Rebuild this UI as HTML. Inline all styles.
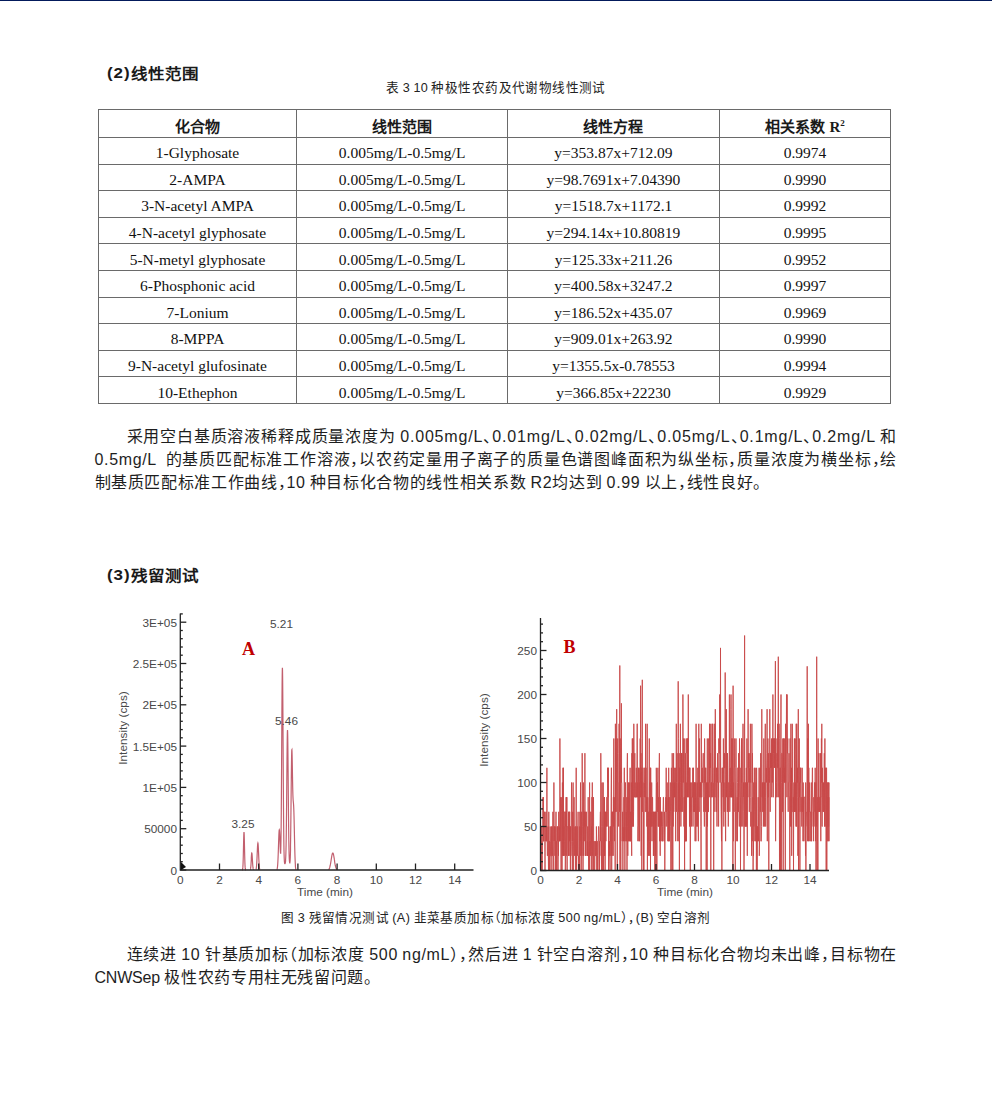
<!DOCTYPE html>
<html lang="zh-CN"><head><meta charset="utf-8">
<style>
*{margin:0;padding:0;box-sizing:border-box}
html,body{width:992px;height:1108px;background:#fff;overflow:hidden}
body{position:relative;font-family:"Liberation Sans",sans-serif;color:#1e1e1e}
.topbar{position:absolute;left:0;top:0;width:992px;height:1px;background:#031a5b}
.h{position:absolute;transform:scaleY(0.91);transform-origin:0 1.4px;left:107px;font-size:16.5px;letter-spacing:-0.1px;font-weight:bold;line-height:20px;white-space:nowrap;color:#1a1a1a;font-feature-settings:'halt';text-autospace:no-autospace}
.cap{position:absolute;left:0;width:992px;text-align:center;font-size:12.6px;letter-spacing:0.42px;line-height:16px;white-space:nowrap;color:#222;font-feature-settings:'halt';text-autospace:no-autospace;word-spacing:-0.7px}
.p{position:absolute;left:94.5px;width:802.5px;font-size:16px;letter-spacing:0.66px;line-height:23px;white-space:nowrap;color:#1e1e1e;font-feature-settings:'halt';text-autospace:no-autospace;word-spacing:-0.87px}
.j{text-align:justify;text-align-last:justify}
table{position:absolute;left:98px;top:108.5px;border-collapse:collapse;font-family:"Liberation Serif",serif;font-size:15.5px;color:#111}
td,th{border:1.2px solid #6a6a6a;text-align:center;padding:0;white-space:nowrap;vertical-align:middle}
th{font-family:"Liberation Sans",sans-serif;font-weight:bold;font-size:15px;height:28.5px;padding-top:4px;color:#1a1a1a}
td{height:26.6px;padding-top:5px}
th b{font-family:"Liberation Serif",serif}
svg{position:absolute;left:0;top:0}
.hn{font-size:17px;letter-spacing:0.9px;margin-right:0.6px;position:relative;top:-1.5px}
</style></head><body>
<div class="topbar"></div>
<div class="h" style="top:63.7px"><span class="hn">(2)</span>线性范围</div>
<div class="cap" style="top:80px">表 3 10 种极性农药及代谢物线性测试</div>
<table>
<colgroup><col style="width:198px"><col style="width:211.2px"><col style="width:211.6px"><col style="width:171.5px"></colgroup>
<tr><th>化合物</th><th>线性范围</th><th>线性方程</th><th>相关系数 <b>R<sup style="font-size:9px">2</sup></b></th></tr>
<tr><td>1-Glyphosate</td><td>0.005mg/L-0.5mg/L</td><td>y=353.87x+712.09</td><td>0.9974</td></tr>
<tr><td>2-AMPA</td><td>0.005mg/L-0.5mg/L</td><td>y=98.7691x+7.04390</td><td>0.9990</td></tr>
<tr><td>3-N-acetyl AMPA</td><td>0.005mg/L-0.5mg/L</td><td>y=1518.7x+1172.1</td><td>0.9992</td></tr>
<tr><td>4-N-acetyl glyphosate</td><td>0.005mg/L-0.5mg/L</td><td>y=294.14x+10.80819</td><td>0.9995</td></tr>
<tr><td>5-N-metyl glyphosate</td><td>0.005mg/L-0.5mg/L</td><td>y=125.33x+211.26</td><td>0.9952</td></tr>
<tr><td>6-Phosphonic acid</td><td>0.005mg/L-0.5mg/L</td><td>y=400.58x+3247.2</td><td>0.9997</td></tr>
<tr><td>7-Lonium</td><td>0.005mg/L-0.5mg/L</td><td>y=186.52x+435.07</td><td>0.9969</td></tr>
<tr><td>8-MPPA</td><td>0.005mg/L-0.5mg/L</td><td>y=909.01x+263.92</td><td>0.9990</td></tr>
<tr><td>9-N-acetyl glufosinate</td><td>0.005mg/L-0.5mg/L</td><td>y=1355.5x-0.78553</td><td>0.9994</td></tr>
<tr><td>10-Ethephon</td><td>0.005mg/L-0.5mg/L</td><td>y=366.85x+22230</td><td>0.9929</td></tr>
</table>

<div class="p j" style="top:424.7px;text-indent:32px">采用空白基质溶液稀释成质量浓度为 <span style="letter-spacing:0.82px">0.005mg/L、0.01mg/L、0.02mg/L、0.05mg/L、0.1mg/L、0.2mg/L</span> 和</div>
<div class="p j" style="top:447.7px">0.5mg/L&nbsp; 的基质匹配标准工作溶液，以农药定量用子离子的质量色谱图峰面积为纵坐标，质量浓度为横坐标，绘</div>
<div class="p" style="top:470.7px">制基质匹配标准工作曲线，10 种目标化合物的线性相关系数 R2均达到 0.99 以上，线性良好。</div>

<div class="h" style="top:566.2px"><span class="hn">(3)</span>残留测试</div>

<svg width="992" height="1108" viewBox="0 0 992 1108">
<path d="M242.4 869.5 L242.5 869.6 L242.6 869.2 L242.7 868.7 L242.8 867.9 L242.9 866.6 L243.0 864.9 L243.1 862.5 L243.2 859.4 L243.3 855.7 L243.4 851.5 L243.5 847.0 L243.6 842.4 L243.7 838.3 L243.8 834.9 L243.9 832.8 L244.0 832.0 L244.1 832.8 L244.2 834.9 L244.3 838.3 L244.4 842.4 L244.5 847.0 L244.6 851.5 L244.7 855.7 L244.8 859.4 L244.9 862.5 L245.0 864.9 L245.1 866.6 L245.2 867.9 L245.3 868.7 L245.4 869.2 L245.5 869.6 L245.6 869.5 M250.2 869.5 L250.3 869.5 L250.4 869.3 L250.5 868.9 L250.6 868.4 L250.7 867.7 L250.8 866.8 L250.9 865.8 L251.0 864.5 L251.1 863.0 L251.2 861.4 L251.3 859.7 L251.3 858.0 L251.4 856.4 L251.5 855.0 L251.6 853.9 L251.7 853.2 L251.8 853.0 L251.9 853.2 L252.0 853.9 L252.1 855.0 L252.2 856.4 L252.3 858.0 L252.4 859.7 L252.5 861.4 L252.6 863.0 L252.7 864.5 L252.8 865.8 L252.9 866.8 L253.0 867.7 L253.1 868.4 L253.2 868.9 L253.3 869.3 L253.4 869.5 L253.5 869.5 M255.9 869.5 L256.0 869.5 L256.1 869.3 L256.2 869.0 L256.2 868.6 L256.3 868.0 L256.4 867.3 L256.5 866.3 L256.6 865.2 L256.7 863.8 L256.8 862.1 L256.9 860.3 L257.0 858.2 L257.1 855.9 L257.2 853.6 L257.3 851.3 L257.4 849.1 L257.5 847.1 L257.6 845.4 L257.7 844.1 L257.8 843.3 L257.9 843.0 L258.0 843.3 L258.1 844.1 L258.2 845.4 L258.3 847.1 L258.4 849.1 L258.5 851.3 L258.6 853.6 L258.7 855.9 L258.8 858.2 L258.9 860.3 L259.0 862.1 L259.1 863.8 L259.2 865.2 L259.3 866.3 L259.4 867.3 L259.5 868.0 L259.6 868.6 L259.7 869.0 L259.8 869.3 L259.9 869.5 L260.0 869.5 M276.8 869.5 L276.9 869.5 L277.0 869.3 L277.1 869.1 L277.2 868.7 L277.3 868.2 L277.4 867.6 L277.5 866.8 L277.6 865.8 L277.7 864.5 L277.8 863.0 L277.9 861.3 L278.0 859.3 L278.1 856.9 L278.2 854.4 L278.3 851.6 L278.4 848.7 L278.5 845.6 L278.6 842.6 L278.7 839.7 L278.8 837.0 L278.9 834.5 L279.0 832.5 L279.1 831.0 L279.2 830.1 L279.3 829.8 L279.4 830.1 L279.5 830.9 L279.6 832.4 L279.7 834.3 L279.8 836.6 L279.9 839.2 L280.0 842.0 L280.1 844.7 L280.2 847.4 L280.3 849.7 L280.4 851.7 L280.5 853.0 L280.6 853.6 L280.7 853.3 L280.7 851.9 L280.8 849.1 L280.9 844.8 L281.0 838.8 L281.1 831.0 L281.2 821.1 L281.3 809.4 L281.4 795.8 L281.5 780.5 L281.6 764.1 L281.7 746.9 L281.8 729.7 L281.9 713.2 L282.0 698.3 L282.1 685.6 L282.2 676.0 L282.3 669.9 L282.4 667.8 L282.5 669.7 L282.6 675.5 L282.7 684.9 L282.8 697.4 L282.9 712.2 L283.0 728.5 L283.1 745.5 L283.2 762.6 L283.3 779.1 L283.4 794.3 L283.5 808.1 L283.6 820.1 L283.7 830.3 L283.8 838.7 L283.9 845.5 L284.0 850.8 L284.1 854.8 L284.2 857.8 L284.3 860.0 L284.4 861.4 L284.5 862.4 L284.6 863.1 L284.7 863.4 L284.8 863.6 L284.9 863.6 L285.0 863.6 L285.1 863.4 L285.2 863.2 L285.3 862.8 L285.4 862.4 L285.5 861.7 L285.6 860.8 L285.6 859.6 L285.7 858.0 L285.8 855.8 L285.9 852.9 L286.0 849.2 L286.1 844.6 L286.2 838.8 L286.3 831.9 L286.4 823.8 L286.5 814.6 L286.6 804.4 L286.7 793.4 L286.8 782.0 L286.9 770.6 L287.0 759.7 L287.1 749.9 L287.2 741.6 L287.3 735.3 L287.4 731.4 L287.5 730.1 L287.6 731.5 L287.7 735.4 L287.8 741.8 L287.9 750.2 L288.0 760.1 L288.1 771.0 L288.2 782.5 L288.3 793.9 L288.4 805.0 L288.5 815.2 L288.6 824.5 L288.7 832.7 L288.8 839.6 L288.9 845.4 L289.0 850.1 L289.1 853.9 L289.2 856.8 L289.3 858.9 L289.4 860.5 L289.5 861.6 L289.6 862.4 L289.7 862.7 L289.8 862.8 L289.9 862.5 L290.0 861.9 L290.1 860.9 L290.2 859.3 L290.3 857.1 L290.4 854.2 L290.5 850.5 L290.5 845.8 L290.6 840.1 L290.7 833.3 L290.8 825.6 L290.9 816.9 L291.0 807.6 L291.1 797.9 L291.2 788.1 L291.3 778.6 L291.4 769.9 L291.5 762.4 L291.6 756.4 L291.7 752.2 L291.8 750.0 L291.9 749.8 L292.0 751.4 L292.1 754.7 L292.2 759.3 L292.3 764.7 L292.4 770.7 L292.5 776.7 L292.6 782.3 L292.7 787.4 L292.8 791.6 L292.9 795.1 L293.0 797.6 L293.1 799.5 L293.2 800.8 L293.3 801.8 L293.4 802.7 L293.5 803.8 L293.6 805.1 L293.7 807.0 L293.8 809.3 L293.9 812.3 L294.0 815.7 L294.1 819.6 L294.2 823.9 L294.3 828.5 L294.4 833.1 L294.5 837.7 L294.6 842.2 L294.7 846.4 L294.8 850.2 L294.9 853.7 L295.0 856.8 L295.1 859.4 L295.2 861.7 L295.3 863.6 L295.4 865.1 L295.4 866.3 L295.5 867.2 L295.6 868.0 L295.7 868.5 L295.8 868.9 L295.9 869.2 L296.0 869.5 L296.1 869.5 M328.5 869.5 L328.6 869.5 L328.7 869.5 L328.8 869.4 L328.9 869.3 L329.0 869.1 L329.1 869.0 L329.2 868.8 L329.3 868.6 L329.4 868.4 L329.5 868.2 L329.6 868.0 L329.7 867.7 L329.7 867.4 L329.8 867.1 L329.9 866.7 L330.0 866.3 L330.1 865.9 L330.2 865.5 L330.3 865.0 L330.4 864.5 L330.5 864.0 L330.6 863.4 L330.7 862.8 L330.8 862.2 L330.9 861.6 L331.0 861.0 L331.1 860.3 L331.2 859.7 L331.3 859.0 L331.4 858.4 L331.5 857.8 L331.6 857.2 L331.7 856.6 L331.8 856.0 L331.9 855.5 L332.0 855.0 L332.1 854.6 L332.2 854.2 L332.3 853.8 L332.4 853.5 L332.5 853.3 L332.6 853.1 L332.7 853.0 L332.8 853.0 L332.9 853.0 L333.0 853.1 L333.1 853.3 L333.2 853.5 L333.3 853.8 L333.4 854.2 L333.5 854.6 L333.6 855.0 L333.7 855.5 L333.8 856.0 L333.9 856.6 L334.0 857.2 L334.1 857.8 L334.2 858.4 L334.3 859.0 L334.4 859.7 L334.5 860.3 L334.6 861.0 L334.6 861.6 L334.7 862.2 L334.8 862.8 L334.9 863.4 L335.0 864.0 L335.1 864.5 L335.2 865.0 L335.3 865.5 L335.4 865.9 L335.5 866.3 L335.6 866.7 L335.7 867.1 L335.8 867.4 L335.9 867.7 L336.0 868.0 L336.1 868.2 L336.2 868.4 L336.3 868.6 L336.4 868.8 L336.5 869.0 L336.6 869.1 L336.7 869.3 L336.8 869.4 L336.9 869.5 L337.0 869.5 L337.1 869.5" fill="none" stroke="#c25f6e" stroke-width="1.2"/>
<path d="M540.5 870.5 L540.7 855.8 L540.9 841.2 L541.1 855.8 L541.3 870.5 L541.5 870.5 L541.7 826.5 L541.9 855.8 L542.2 870.5 L542.4 855.8 L542.6 841.2 L542.8 841.2 L543.0 797.2 L543.2 841.2 L543.4 797.2 L543.6 841.2 L543.8 841.2 L544.0 841.2 L544.2 841.2 L544.4 811.8 L544.6 811.8 L544.8 841.2 L545.0 870.5 L545.2 841.2 L545.5 841.2 L545.7 826.5 L545.9 811.8 L546.1 841.2 L546.3 826.5 L546.5 841.2 L546.7 841.2 L546.9 767.8 L547.1 826.5 L547.3 855.8 L547.5 855.8 L547.7 841.2 L547.9 826.5 L548.1 826.5 L548.3 855.8 L548.5 870.5 L548.8 811.8 L549.0 841.2 L549.2 855.8 L549.4 870.5 L549.6 841.2 L549.8 841.2 L550.0 870.5 L550.2 826.5 L550.4 841.2 L550.6 855.8 L550.8 855.8 L551.0 855.8 L551.2 855.8 L551.4 855.8 L551.6 826.5 L551.9 870.5 L552.1 826.5 L552.3 855.8 L552.5 855.8 L552.7 841.2 L552.9 811.8 L553.1 841.2 L553.3 855.8 L553.5 855.8 L553.7 870.5 L553.9 782.5 L554.1 841.2 L554.3 826.5 L554.5 826.5 L554.7 841.2 L554.9 855.8 L555.2 826.5 L555.4 870.5 L555.6 841.2 L555.8 841.2 L556.0 811.8 L556.2 870.5 L556.4 855.8 L556.6 841.2 L556.8 870.5 L557.0 841.2 L557.2 826.5 L557.4 841.2 L557.6 826.5 L557.8 841.2 L558.0 870.5 L558.3 841.2 L558.5 855.8 L558.7 811.8 L558.9 841.2 L559.1 841.2 L559.3 826.5 L559.5 841.2 L559.7 826.5 L559.9 738.5 L560.1 797.2 L560.3 841.2 L560.5 797.2 L560.7 826.5 L560.9 841.2 L561.1 870.5 L561.3 797.2 L561.6 811.8 L561.8 870.5 L562.0 870.5 L562.2 870.5 L562.4 782.5 L562.6 841.2 L562.8 855.8 L563.0 767.8 L563.2 855.8 L563.4 767.8 L563.6 841.2 L563.8 855.8 L564.0 826.5 L564.2 855.8 L564.4 841.2 L564.6 811.8 L564.9 811.8 L565.1 811.8 L565.3 870.5 L565.5 855.8 L565.7 811.8 L565.9 826.5 L566.1 797.2 L566.3 855.8 L566.5 797.2 L566.7 826.5 L566.9 797.2 L567.1 870.5 L567.3 826.5 L567.5 826.5 L567.7 826.5 L568.0 826.5 L568.2 841.2 L568.4 855.8 L568.6 811.8 L568.8 855.8 L569.0 811.8 L569.2 841.2 L569.4 841.2 L569.6 811.8 L569.8 811.8 L570.0 855.8 L570.2 826.5 L570.4 870.5 L570.6 826.5 L570.8 855.8 L571.0 855.8 L571.3 841.2 L571.5 782.5 L571.7 797.2 L571.9 826.5 L572.1 841.2 L572.3 870.5 L572.5 841.2 L572.7 811.8 L572.9 841.2 L573.1 782.5 L573.3 870.5 L573.5 841.2 L573.7 841.2 L573.9 811.8 L574.1 797.2 L574.3 826.5 L574.6 855.8 L574.8 826.5 L575.0 826.5 L575.2 826.5 L575.4 870.5 L575.6 870.5 L575.8 826.5 L576.0 855.8 L576.2 767.8 L576.4 870.5 L576.6 855.8 L576.8 841.2 L577.0 826.5 L577.2 826.5 L577.4 855.8 L577.7 826.5 L577.9 826.5 L578.1 811.8 L578.3 870.5 L578.5 870.5 L578.7 855.8 L578.9 870.5 L579.1 870.5 L579.3 826.5 L579.5 855.8 L579.7 870.5 L579.9 811.8 L580.1 841.2 L580.3 826.5 L580.5 782.5 L580.7 855.8 L581.0 826.5 L581.2 870.5 L581.4 855.8 L581.6 811.8 L581.8 826.5 L582.0 855.8 L582.2 753.2 L582.4 826.5 L582.6 826.5 L582.8 841.2 L583.0 870.5 L583.2 855.8 L583.4 782.5 L583.6 855.8 L583.8 826.5 L584.0 811.8 L584.3 841.2 L584.5 811.8 L584.7 826.5 L584.9 753.2 L585.1 826.5 L585.3 855.8 L585.5 841.2 L585.7 811.8 L585.9 855.8 L586.1 826.5 L586.3 811.8 L586.5 826.5 L586.7 826.5 L586.9 826.5 L587.1 855.8 L587.4 841.2 L587.6 855.8 L587.8 826.5 L588.0 855.8 L588.2 797.2 L588.4 841.2 L588.6 870.5 L588.8 870.5 L589.0 855.8 L589.2 855.8 L589.4 870.5 L589.6 782.5 L589.8 855.8 L590.0 841.2 L590.2 855.8 L590.4 855.8 L590.7 811.8 L590.9 811.8 L591.1 826.5 L591.3 870.5 L591.5 826.5 L591.7 841.2 L591.9 797.2 L592.1 855.8 L592.3 782.5 L592.5 855.8 L592.7 855.8 L592.9 870.5 L593.1 855.8 L593.3 811.8 L593.5 797.2 L593.8 870.5 L594.0 841.2 L594.2 870.5 L594.4 870.5 L594.6 870.5 L594.8 870.5 L595.0 841.2 L595.2 855.8 L595.4 855.8 L595.6 855.8 L595.8 841.2 L596.0 855.8 L596.2 855.8 L596.4 826.5 L596.6 841.2 L596.8 870.5 L597.1 841.2 L597.3 855.8 L597.5 870.5 L597.7 855.8 L597.9 841.2 L598.1 841.2 L598.3 841.2 L598.5 826.5 L598.7 826.5 L598.9 826.5 L599.1 870.5 L599.3 841.2 L599.5 870.5 L599.7 855.8 L599.9 841.2 L600.1 826.5 L600.4 811.8 L600.6 841.2 L600.8 753.2 L601.0 782.5 L601.2 855.8 L601.4 841.2 L601.6 870.5 L601.8 826.5 L602.0 782.5 L602.2 797.2 L602.4 870.5 L602.6 870.5 L602.8 826.5 L603.0 811.8 L603.2 782.5 L603.5 870.5 L603.7 841.2 L603.9 826.5 L604.1 797.2 L604.3 855.8 L604.5 797.2 L604.7 855.8 L604.9 811.8 L605.1 870.5 L605.3 826.5 L605.5 826.5 L605.7 811.8 L605.9 841.2 L606.1 811.8 L606.3 811.8 L606.5 826.5 L606.8 797.2 L607.0 797.2 L607.2 826.5 L607.4 811.8 L607.6 767.8 L607.8 782.5 L608.0 767.8 L608.2 797.2 L608.4 767.8 L608.6 870.5 L608.8 826.5 L609.0 855.8 L609.2 855.8 L609.4 855.8 L609.6 841.2 L609.8 855.8 L610.1 870.5 L610.3 826.5 L610.5 841.2 L610.7 826.5 L610.9 855.8 L611.1 797.2 L611.3 767.8 L611.5 767.8 L611.7 870.5 L611.9 811.8 L612.1 855.8 L612.3 841.2 L612.5 811.8 L612.7 811.8 L612.9 826.5 L613.2 855.8 L613.4 797.2 L613.6 826.5 L613.8 738.5 L614.0 797.2 L614.2 826.5 L614.4 841.2 L614.6 811.8 L614.8 797.2 L615.0 841.2 L615.2 870.5 L615.4 723.8 L615.6 811.8 L615.8 738.5 L616.0 797.2 L616.2 811.8 L616.5 767.8 L616.7 709.2 L616.9 782.5 L617.1 811.8 L617.3 870.5 L617.5 753.2 L617.7 738.5 L617.9 782.5 L618.1 782.5 L618.3 811.8 L618.5 811.8 L618.7 826.5 L618.9 753.2 L619.1 723.8 L619.3 753.2 L619.6 811.8 L619.8 665.5 L620.0 870.5 L620.2 738.5 L620.4 753.2 L620.6 811.8 L620.8 870.5 L621.0 767.8 L621.2 782.5 L621.4 703.3 L621.6 782.5 L621.8 782.5 L622.0 811.8 L622.2 841.2 L622.4 826.5 L622.6 811.8 L622.9 870.5 L623.1 826.5 L623.3 826.5 L623.5 841.2 L623.7 826.5 L623.9 797.2 L624.1 826.5 L624.3 767.8 L624.5 841.2 L624.7 826.5 L624.9 870.5 L625.1 811.8 L625.3 782.5 L625.5 782.5 L625.7 826.5 L625.9 841.2 L626.2 811.8 L626.4 841.2 L626.6 811.8 L626.8 797.2 L627.0 870.5 L627.2 767.8 L627.4 753.2 L627.6 826.5 L627.8 855.8 L628.0 797.2 L628.2 811.8 L628.4 841.2 L628.6 782.5 L628.8 811.8 L629.0 841.2 L629.3 782.5 L629.5 797.2 L629.7 841.2 L629.9 797.2 L630.1 767.8 L630.3 841.2 L630.5 811.8 L630.7 841.2 L630.9 841.2 L631.1 841.2 L631.3 782.5 L631.5 841.2 L631.7 855.8 L631.9 753.2 L632.1 826.5 L632.3 738.5 L632.6 797.2 L632.8 826.5 L633.0 738.5 L633.2 811.8 L633.4 826.5 L633.6 811.8 L633.8 723.8 L634.0 753.2 L634.2 797.2 L634.4 782.5 L634.6 782.5 L634.8 753.2 L635.0 797.2 L635.2 782.5 L635.4 797.2 L635.6 797.2 L635.9 797.2 L636.1 797.2 L636.3 767.8 L636.5 797.2 L636.7 797.2 L636.9 782.5 L637.1 723.8 L637.3 723.8 L637.5 797.2 L637.7 782.5 L637.9 841.2 L638.1 826.5 L638.3 826.5 L638.5 767.8 L638.7 782.5 L639.0 841.2 L639.2 767.8 L639.4 811.8 L639.6 841.2 L639.8 782.5 L640.0 797.2 L640.2 738.5 L640.4 782.5 L640.6 685.7 L640.8 797.2 L641.0 753.2 L641.2 855.8 L641.4 767.8 L641.6 797.2 L641.8 870.5 L642.0 738.5 L642.3 679.8 L642.5 797.2 L642.7 811.8 L642.9 767.8 L643.1 767.8 L643.3 797.2 L643.5 870.5 L643.7 811.8 L643.9 870.5 L644.1 782.5 L644.3 797.2 L644.5 782.5 L644.7 767.8 L644.9 767.8 L645.1 811.8 L645.3 811.8 L645.6 723.8 L645.8 797.2 L646.0 767.8 L646.2 811.8 L646.4 797.2 L646.6 797.2 L646.8 826.5 L647.0 811.8 L647.2 723.8 L647.4 870.5 L647.6 826.5 L647.8 797.2 L648.0 841.2 L648.2 811.8 L648.4 855.8 L648.7 811.8 L648.9 811.8 L649.1 797.2 L649.3 738.5 L649.5 841.2 L649.7 855.8 L649.9 782.5 L650.1 826.5 L650.3 767.8 L650.5 870.5 L650.7 767.8 L650.9 826.5 L651.1 811.8 L651.3 826.5 L651.5 811.8 L651.7 782.5 L652.0 841.2 L652.2 811.8 L652.4 797.2 L652.6 797.2 L652.8 826.5 L653.0 811.8 L653.2 826.5 L653.4 855.8 L653.6 811.8 L653.8 855.8 L654.0 826.5 L654.2 841.2 L654.4 811.8 L654.6 826.5 L654.8 870.5 L655.1 811.8 L655.3 811.8 L655.5 855.8 L655.7 811.8 L655.9 870.5 L656.1 797.2 L656.3 767.8 L656.5 782.5 L656.7 826.5 L656.9 870.5 L657.1 782.5 L657.3 811.8 L657.5 782.5 L657.7 797.2 L657.9 767.8 L658.1 826.5 L658.4 826.5 L658.6 797.2 L658.8 811.8 L659.0 826.5 L659.2 767.8 L659.4 753.2 L659.6 841.2 L659.8 826.5 L660.0 811.8 L660.2 855.8 L660.4 797.2 L660.6 841.2 L660.8 811.8 L661.0 811.8 L661.2 826.5 L661.4 811.8 L661.7 826.5 L661.9 841.2 L662.1 811.8 L662.3 826.5 L662.5 841.2 L662.7 841.2 L662.9 826.5 L663.1 811.8 L663.3 797.2 L663.5 797.2 L663.7 811.8 L663.9 841.2 L664.1 841.2 L664.3 841.2 L664.5 811.8 L664.8 870.5 L665.0 841.2 L665.2 826.5 L665.4 826.5 L665.6 826.5 L665.8 797.2 L666.0 811.8 L666.2 767.8 L666.4 811.8 L666.6 797.2 L666.8 826.5 L667.0 797.2 L667.2 782.5 L667.4 797.2 L667.6 811.8 L667.8 841.2 L668.1 826.5 L668.3 797.2 L668.5 841.2 L668.7 767.8 L668.9 841.2 L669.1 826.5 L669.3 797.2 L669.5 841.2 L669.7 811.8 L669.9 811.8 L670.1 811.8 L670.3 782.5 L670.5 811.8 L670.7 826.5 L670.9 870.5 L671.1 811.8 L671.4 767.8 L671.6 782.5 L671.8 841.2 L672.0 870.5 L672.2 753.2 L672.4 811.8 L672.6 811.8 L672.8 870.5 L673.0 782.5 L673.2 826.5 L673.4 782.5 L673.6 753.2 L673.8 811.8 L674.0 797.2 L674.2 767.8 L674.5 797.2 L674.7 782.5 L674.9 797.2 L675.1 797.2 L675.3 767.8 L675.5 797.2 L675.7 841.2 L675.9 782.5 L676.1 782.5 L676.3 723.8 L676.5 782.5 L676.7 811.8 L676.9 782.5 L677.1 753.2 L677.3 811.8 L677.5 811.8 L677.8 841.2 L678.0 782.5 L678.2 681.3 L678.4 738.5 L678.6 811.8 L678.8 782.5 L679.0 841.2 L679.2 753.2 L679.4 870.5 L679.6 767.8 L679.8 767.8 L680.0 811.8 L680.2 767.8 L680.4 723.8 L680.6 782.5 L680.9 826.5 L681.1 797.2 L681.3 811.8 L681.5 753.2 L681.7 797.2 L681.9 753.2 L682.1 753.2 L682.3 797.2 L682.5 797.2 L682.7 811.8 L682.9 694.5 L683.1 753.2 L683.3 782.5 L683.5 738.5 L683.7 767.8 L683.9 826.5 L684.2 797.2 L684.4 811.8 L684.6 870.5 L684.8 738.5 L685.0 811.8 L685.2 841.2 L685.4 753.2 L685.6 841.2 L685.8 826.5 L686.0 841.2 L686.2 782.5 L686.4 841.2 L686.6 797.2 L686.8 738.5 L687.0 753.2 L687.2 738.5 L687.5 797.2 L687.7 767.8 L687.9 738.5 L688.1 797.2 L688.3 694.5 L688.5 767.8 L688.7 782.5 L688.9 797.2 L689.1 767.8 L689.3 767.8 L689.5 826.5 L689.7 767.8 L689.9 767.8 L690.1 767.8 L690.3 870.5 L690.6 782.5 L690.8 811.8 L691.0 797.2 L691.2 797.2 L691.4 826.5 L691.6 811.8 L691.8 782.5 L692.0 797.2 L692.2 797.2 L692.4 797.2 L692.6 797.2 L692.8 767.8 L693.0 826.5 L693.2 797.2 L693.4 767.8 L693.6 811.8 L693.9 797.2 L694.1 782.5 L694.3 797.2 L694.5 811.8 L694.7 782.5 L694.9 782.5 L695.1 841.2 L695.3 782.5 L695.5 797.2 L695.7 811.8 L695.9 841.2 L696.1 723.8 L696.3 826.5 L696.5 826.5 L696.7 797.2 L696.9 797.2 L697.2 782.5 L697.4 797.2 L697.6 826.5 L697.8 767.8 L698.0 826.5 L698.2 826.5 L698.4 841.2 L698.6 797.2 L698.8 723.8 L699.0 797.2 L699.2 811.8 L699.4 753.2 L699.6 738.5 L699.8 797.2 L700.0 782.5 L700.3 797.2 L700.5 782.5 L700.7 782.5 L700.9 826.5 L701.1 870.5 L701.3 723.8 L701.5 767.8 L701.7 797.2 L701.9 797.2 L702.1 767.8 L702.3 767.8 L702.5 782.5 L702.7 782.5 L702.9 767.8 L703.1 753.2 L703.3 753.2 L703.6 797.2 L703.8 811.8 L704.0 797.2 L704.2 811.8 L704.4 826.5 L704.6 738.5 L704.8 782.5 L705.0 782.5 L705.2 767.8 L705.4 782.5 L705.6 811.8 L705.8 767.8 L706.0 797.2 L706.2 870.5 L706.4 826.5 L706.6 782.5 L706.9 797.2 L707.1 870.5 L707.3 738.5 L707.5 826.5 L707.7 782.5 L707.9 811.8 L708.1 782.5 L708.3 811.8 L708.5 811.8 L708.7 738.5 L708.9 767.8 L709.1 767.8 L709.3 782.5 L709.5 723.8 L709.7 797.2 L710.0 767.8 L710.2 723.8 L710.4 767.8 L710.6 753.2 L710.8 870.5 L711.0 782.5 L711.2 782.5 L711.4 782.5 L711.6 782.5 L711.8 797.2 L712.0 723.8 L712.2 797.2 L712.4 782.5 L712.6 782.5 L712.8 723.8 L713.0 753.2 L713.3 782.5 L713.5 797.2 L713.7 870.5 L713.9 782.5 L714.1 797.2 L714.3 767.8 L714.5 782.5 L714.7 723.8 L714.9 811.8 L715.1 767.8 L715.3 709.2 L715.5 738.5 L715.7 782.5 L715.9 797.2 L716.1 797.2 L716.4 767.8 L716.6 811.8 L716.8 797.2 L717.0 826.5 L717.2 767.8 L717.4 782.5 L717.6 753.2 L717.8 767.8 L718.0 767.8 L718.2 797.2 L718.4 782.5 L718.6 826.5 L718.8 738.5 L719.0 753.2 L719.2 753.2 L719.4 753.2 L719.7 694.5 L719.9 782.5 L720.1 782.5 L720.3 782.5 L720.5 647.9 L720.7 767.8 L720.9 782.5 L721.1 811.8 L721.3 826.5 L721.5 841.2 L721.7 782.5 L721.9 870.5 L722.1 767.8 L722.3 782.5 L722.5 782.5 L722.7 767.8 L723.0 797.2 L723.2 797.2 L723.4 738.5 L723.6 797.2 L723.8 826.5 L724.0 782.5 L724.2 811.8 L724.4 753.2 L724.6 767.8 L724.8 767.8 L725.0 767.8 L725.2 672.5 L725.4 753.2 L725.6 841.2 L725.8 782.5 L726.1 782.5 L726.3 709.2 L726.5 797.2 L726.7 753.2 L726.9 753.2 L727.1 767.8 L727.3 811.8 L727.5 753.2 L727.7 767.8 L727.9 811.8 L728.1 797.2 L728.3 826.5 L728.5 797.2 L728.7 782.5 L728.9 782.5 L729.1 797.2 L729.4 694.5 L729.6 767.8 L729.8 811.8 L730.0 782.5 L730.2 767.8 L730.4 797.2 L730.6 782.5 L730.8 709.2 L731.0 694.5 L731.2 709.2 L731.4 797.2 L731.6 738.5 L731.8 797.2 L732.0 767.8 L732.2 782.5 L732.4 797.2 L732.7 738.5 L732.9 870.5 L733.1 685.7 L733.3 811.8 L733.5 841.2 L733.7 782.5 L733.9 797.2 L734.1 811.8 L734.3 767.8 L734.5 767.8 L734.7 738.5 L734.9 782.5 L735.1 782.5 L735.3 870.5 L735.5 811.8 L735.8 767.8 L736.0 738.5 L736.2 767.8 L736.4 811.8 L736.6 811.8 L736.8 841.2 L737.0 811.8 L737.2 797.2 L737.4 841.2 L737.6 782.5 L737.8 767.8 L738.0 767.8 L738.2 782.5 L738.4 811.8 L738.6 753.2 L738.8 811.8 L739.1 811.8 L739.3 826.5 L739.5 738.5 L739.7 753.2 L739.9 782.5 L740.1 797.2 L740.3 797.2 L740.5 870.5 L740.7 797.2 L740.9 767.8 L741.1 797.2 L741.3 826.5 L741.5 738.5 L741.7 782.5 L741.9 738.5 L742.2 797.2 L742.4 797.2 L742.6 797.2 L742.8 826.5 L743.0 723.8 L743.2 797.2 L743.4 782.5 L743.6 797.2 L743.8 811.8 L744.0 870.5 L744.2 841.2 L744.4 767.8 L744.6 635.5 L744.8 826.5 L745.0 782.5 L745.2 811.8 L745.5 826.5 L745.7 811.8 L745.9 782.5 L746.1 826.5 L746.3 767.8 L746.5 811.8 L746.7 826.5 L746.9 738.5 L747.1 797.2 L747.3 855.8 L747.5 782.5 L747.7 782.5 L747.9 797.2 L748.1 709.2 L748.3 767.8 L748.5 753.2 L748.8 782.5 L749.0 767.8 L749.2 811.8 L749.4 811.8 L749.6 767.8 L749.8 753.2 L750.0 767.8 L750.2 782.5 L750.4 723.8 L750.6 797.2 L750.8 826.5 L751.0 811.8 L751.2 826.5 L751.4 826.5 L751.6 855.8 L751.9 723.8 L752.1 753.2 L752.3 782.5 L752.5 753.2 L752.7 841.2 L752.9 797.2 L753.1 870.5 L753.3 841.2 L753.5 855.8 L753.7 782.5 L753.9 826.5 L754.1 797.2 L754.3 767.8 L754.5 797.2 L754.7 811.8 L754.9 841.2 L755.2 767.8 L755.4 811.8 L755.6 811.8 L755.8 841.2 L756.0 782.5 L756.2 782.5 L756.4 870.5 L756.6 767.8 L756.8 841.2 L757.0 826.5 L757.2 870.5 L757.4 826.5 L757.6 841.2 L757.8 826.5 L758.0 826.5 L758.2 797.2 L758.5 841.2 L758.7 826.5 L758.9 811.8 L759.1 767.8 L759.3 855.8 L759.5 841.2 L759.7 841.2 L759.9 826.5 L760.1 767.8 L760.3 811.8 L760.5 797.2 L760.7 753.2 L760.9 841.2 L761.1 841.2 L761.3 841.2 L761.6 826.5 L761.8 709.2 L762.0 782.5 L762.2 797.2 L762.4 782.5 L762.6 811.8 L762.8 811.8 L763.0 782.5 L763.2 782.5 L763.4 826.5 L763.6 811.8 L763.8 738.5 L764.0 811.8 L764.2 797.2 L764.4 782.5 L764.6 826.5 L764.9 811.8 L765.1 738.5 L765.3 723.8 L765.5 797.2 L765.7 826.5 L765.9 811.8 L766.1 782.5 L766.3 767.8 L766.5 782.5 L766.7 767.8 L766.9 753.2 L767.1 709.2 L767.3 841.2 L767.5 782.5 L767.7 782.5 L767.9 738.5 L768.2 797.2 L768.4 753.2 L768.6 782.5 L768.8 870.5 L769.0 767.8 L769.2 767.8 L769.4 782.5 L769.6 782.5 L769.8 709.2 L770.0 767.8 L770.2 811.8 L770.4 753.2 L770.6 767.8 L770.8 753.2 L771.0 753.2 L771.3 767.8 L771.5 738.5 L771.7 797.2 L771.9 782.5 L772.1 753.2 L772.3 782.5 L772.5 738.5 L772.7 753.2 L772.9 694.5 L773.1 797.2 L773.3 797.2 L773.5 753.2 L773.7 738.5 L773.9 753.2 L774.1 738.5 L774.3 767.8 L774.6 753.2 L774.8 738.5 L775.0 767.8 L775.2 709.2 L775.4 661.1 L775.6 841.2 L775.8 797.2 L776.0 738.5 L776.2 797.2 L776.4 797.2 L776.6 782.5 L776.8 767.8 L777.0 753.2 L777.2 767.8 L777.4 767.8 L777.7 723.8 L777.9 797.2 L778.1 767.8 L778.3 656.7 L778.5 767.8 L778.7 767.8 L778.9 797.2 L779.1 723.8 L779.3 738.5 L779.5 870.5 L779.7 782.5 L779.9 782.5 L780.1 767.8 L780.3 767.8 L780.5 870.5 L780.7 753.2 L781.0 694.5 L781.2 870.5 L781.4 870.5 L781.6 782.5 L781.8 753.2 L782.0 753.2 L782.2 767.8 L782.4 767.8 L782.6 811.8 L782.8 738.5 L783.0 811.8 L783.2 870.5 L783.4 797.2 L783.6 738.5 L783.8 767.8 L784.0 782.5 L784.3 738.5 L784.5 782.5 L784.7 767.8 L784.9 767.8 L785.1 782.5 L785.3 870.5 L785.5 723.8 L785.7 782.5 L785.9 753.2 L786.1 738.5 L786.3 738.5 L786.5 694.5 L786.7 694.5 L786.9 797.2 L787.1 694.5 L787.4 753.2 L787.6 753.2 L787.8 738.5 L788.0 797.2 L788.2 811.8 L788.4 782.5 L788.6 782.5 L788.8 782.5 L789.0 753.2 L789.2 797.2 L789.4 797.2 L789.6 797.2 L789.8 870.5 L790.0 738.5 L790.2 738.5 L790.4 782.5 L790.7 826.5 L790.9 723.8 L791.1 797.2 L791.3 826.5 L791.5 767.8 L791.7 855.8 L791.9 811.8 L792.1 811.8 L792.3 723.8 L792.5 782.5 L792.7 782.5 L792.9 811.8 L793.1 811.8 L793.3 797.2 L793.5 870.5 L793.7 797.2 L794.0 782.5 L794.2 811.8 L794.4 738.5 L794.6 811.8 L794.8 782.5 L795.0 753.2 L795.2 738.5 L795.4 811.8 L795.6 782.5 L795.8 797.2 L796.0 826.5 L796.2 723.8 L796.4 738.5 L796.6 826.5 L796.8 723.8 L797.1 782.5 L797.3 782.5 L797.5 767.8 L797.7 797.2 L797.9 855.8 L798.1 797.2 L798.3 709.2 L798.5 870.5 L798.7 797.2 L798.9 811.8 L799.1 782.5 L799.3 738.5 L799.5 797.2 L799.7 782.5 L799.9 870.5 L800.1 811.8 L800.4 767.8 L800.6 782.5 L800.8 767.8 L801.0 811.8 L801.2 797.2 L801.4 811.8 L801.6 811.8 L801.8 826.5 L802.0 797.2 L802.2 767.8 L802.4 811.8 L802.6 811.8 L802.8 797.2 L803.0 841.2 L803.2 782.5 L803.5 826.5 L803.7 797.2 L803.9 841.2 L804.1 797.2 L804.3 797.2 L804.5 797.2 L804.7 797.2 L804.9 797.2 L805.1 797.2 L805.3 826.5 L805.5 855.8 L805.7 782.5 L805.9 870.5 L806.1 826.5 L806.3 826.5 L806.5 811.8 L806.8 811.8 L807.0 782.5 L807.2 666.3 L807.4 767.8 L807.6 841.2 L807.8 738.5 L808.0 767.8 L808.2 782.5 L808.4 723.8 L808.6 841.2 L808.8 767.8 L809.0 826.5 L809.2 841.2 L809.4 782.5 L809.6 797.2 L809.8 811.8 L810.1 811.8 L810.3 811.8 L810.5 811.8 L810.7 841.2 L810.9 841.2 L811.1 811.8 L811.3 782.5 L811.5 841.2 L811.7 841.2 L811.9 811.8 L812.1 797.2 L812.3 767.8 L812.5 767.8 L812.7 797.2 L812.9 811.8 L813.2 826.5 L813.4 811.8 L813.6 841.2 L813.8 797.2 L814.0 826.5 L814.2 811.8 L814.4 797.2 L814.6 782.5 L814.8 782.5 L815.0 811.8 L815.2 767.8 L815.4 811.8 L815.6 841.2 L815.8 782.5 L816.0 870.5 L816.2 811.8 L816.5 826.5 L816.7 656.7 L816.9 841.2 L817.1 870.5 L817.3 841.2 L817.5 841.2 L817.7 797.2 L817.9 870.5 L818.1 738.5 L818.3 811.8 L818.5 811.8 L818.7 767.8 L818.9 753.2 L819.1 797.2 L819.3 797.2 L819.5 811.8 L819.8 797.2 L820.0 797.2 L820.2 811.8 L820.4 753.2 L820.6 811.8 L820.8 841.2 L821.0 797.2 L821.2 797.2 L821.4 738.5 L821.6 782.5 L821.8 723.8 L822.0 826.5 L822.2 826.5 L822.4 767.8 L822.6 797.2 L822.9 811.8 L823.1 811.8 L823.3 797.2 L823.5 782.5 L823.7 811.8 L823.9 797.2 L824.1 797.2 L824.3 753.2 L824.5 811.8 L824.7 826.5 L824.9 738.5 L825.1 826.5 L825.3 811.8 L825.5 767.8 L825.7 767.8 L825.9 782.5 L826.2 870.5 L826.4 767.8 L826.6 767.8 L826.8 870.5 L827.0 782.5 L827.2 841.2 L827.4 797.2 L827.6 826.5 L827.8 782.5 L828.0 811.8 L828.2 841.2 L828.4 782.5 L828.6 826.5 L828.8 797.2 L829.0 841.2 L829.2 782.5" fill="none" stroke="#c84848" stroke-width="0.9"/>
<g stroke="#222" stroke-width="1.3" fill="none">
<path d="M180.3 613.5 V870.0 H473.5"/>
<path d="M180.3 870.0 h6"/>
<path d="M180.3 828.7 h6"/>
<path d="M180.3 787.4 h6"/>
<path d="M180.3 746.1 h6"/>
<path d="M180.3 704.8 h6"/>
<path d="M180.3 663.5 h6"/>
<path d="M180.3 622.2 h6"/>
<path d="M180.3 861.7 h2.5"/>
<path d="M180.3 853.5 h2.5"/>
<path d="M180.3 845.2 h2.5"/>
<path d="M180.3 837.0 h2.5"/>
<path d="M180.3 820.4 h2.5"/>
<path d="M180.3 812.2 h2.5"/>
<path d="M180.3 803.9 h2.5"/>
<path d="M180.3 795.7 h2.5"/>
<path d="M180.3 779.1 h2.5"/>
<path d="M180.3 770.9 h2.5"/>
<path d="M180.3 762.6 h2.5"/>
<path d="M180.3 754.4 h2.5"/>
<path d="M180.3 737.8 h2.5"/>
<path d="M180.3 729.6 h2.5"/>
<path d="M180.3 721.3 h2.5"/>
<path d="M180.3 713.1 h2.5"/>
<path d="M180.3 696.5 h2.5"/>
<path d="M180.3 688.3 h2.5"/>
<path d="M180.3 680.0 h2.5"/>
<path d="M180.3 671.8 h2.5"/>
<path d="M180.3 655.2 h2.5"/>
<path d="M180.3 647.0 h2.5"/>
<path d="M180.3 638.7 h2.5"/>
<path d="M180.3 630.5 h2.5"/>
<path d="M180.3 613.9 h2.5"/>
<path d="M219.5 870.0 v-6.5"/>
<path d="M258.7 870.0 v-6.5"/>
<path d="M297.9 870.0 v-6.5"/>
<path d="M337.1 870.0 v-6.5"/>
<path d="M376.3 870.0 v-6.5"/>
<path d="M415.5 870.0 v-6.5"/>
<path d="M454.7 870.0 v-6.5"/>
<path d="M540.5 618 V870.5 H829"/>
<path d="M540.5 870.5 h6"/>
<path d="M540.5 826.5 h6"/>
<path d="M540.5 782.5 h6"/>
<path d="M540.5 738.5 h6"/>
<path d="M540.5 694.5 h6"/>
<path d="M540.5 650.5 h6"/>
<path d="M540.5 861.7 h2.5"/>
<path d="M540.5 852.9 h2.5"/>
<path d="M540.5 844.1 h2.5"/>
<path d="M540.5 835.3 h2.5"/>
<path d="M540.5 817.7 h2.5"/>
<path d="M540.5 808.9 h2.5"/>
<path d="M540.5 800.1 h2.5"/>
<path d="M540.5 791.3 h2.5"/>
<path d="M540.5 773.7 h2.5"/>
<path d="M540.5 764.9 h2.5"/>
<path d="M540.5 756.1 h2.5"/>
<path d="M540.5 747.3 h2.5"/>
<path d="M540.5 729.7 h2.5"/>
<path d="M540.5 720.9 h2.5"/>
<path d="M540.5 712.1 h2.5"/>
<path d="M540.5 703.3 h2.5"/>
<path d="M540.5 685.7 h2.5"/>
<path d="M540.5 676.9 h2.5"/>
<path d="M540.5 668.1 h2.5"/>
<path d="M540.5 659.3 h2.5"/>
<path d="M540.5 641.7 h2.5"/>
<path d="M540.5 632.9 h2.5"/>
<path d="M540.5 624.1 h2.5"/>
<path d="M579.0 870.5 v-6.5"/>
<path d="M617.5 870.5 v-6.5"/>
<path d="M656.0 870.5 v-6.5"/>
<path d="M694.5 870.5 v-6.5"/>
<path d="M733.0 870.5 v-6.5"/>
<path d="M771.5 870.5 v-6.5"/>
<path d="M810.0 870.5 v-6.5"/>
</g>
<g font-family="Liberation Sans, sans-serif" font-size="11.8" fill="#484848">
<text x="177" y="874.6" text-anchor="end">0</text>
<text x="177" y="833.3" text-anchor="end">50000</text>
<text x="177" y="792.0" text-anchor="end">1E+05</text>
<text x="177" y="750.7" text-anchor="end">1.5E+05</text>
<text x="177" y="709.4" text-anchor="end">2E+05</text>
<text x="177" y="668.1" text-anchor="end">2.5E+05</text>
<text x="177" y="626.8" text-anchor="end">3E+05</text>
<text x="180.3" y="884" text-anchor="middle">0</text>
<text x="219.5" y="884" text-anchor="middle">2</text>
<text x="258.7" y="884" text-anchor="middle">4</text>
<text x="297.9" y="884" text-anchor="middle">6</text>
<text x="337.1" y="884" text-anchor="middle">8</text>
<text x="376.3" y="884" text-anchor="middle">10</text>
<text x="415.5" y="884" text-anchor="middle">12</text>
<text x="454.7" y="884" text-anchor="middle">14</text>
<text x="325" y="896" text-anchor="middle">Time (min)</text>
<text transform="translate(127 728) rotate(-90)" text-anchor="middle">Intensity (cps)</text>
<text x="537" y="874.9" text-anchor="end">0</text>
<text x="537" y="830.9" text-anchor="end">50</text>
<text x="537" y="786.9" text-anchor="end">100</text>
<text x="537" y="742.9" text-anchor="end">150</text>
<text x="537" y="698.9" text-anchor="end">200</text>
<text x="537" y="654.9" text-anchor="end">250</text>
<text x="540.5" y="884" text-anchor="middle">0</text>
<text x="579.0" y="884" text-anchor="middle">2</text>
<text x="617.5" y="884" text-anchor="middle">4</text>
<text x="656.0" y="884" text-anchor="middle">6</text>
<text x="694.5" y="884" text-anchor="middle">8</text>
<text x="733.0" y="884" text-anchor="middle">10</text>
<text x="771.5" y="884" text-anchor="middle">12</text>
<text x="810.0" y="884" text-anchor="middle">14</text>
<text x="685" y="896" text-anchor="middle">Time (min)</text>
<text transform="translate(488 730) rotate(-90)" text-anchor="middle">Intensity (cps)</text>
<text x="243" y="828" text-anchor="middle">3.25</text>
<text x="281.5" y="628" text-anchor="middle">5.21</text>
<text x="286.5" y="724.5" text-anchor="middle">5.46</text>
</g>
<g font-family="Liberation Serif, serif" font-size="18" font-weight="bold" fill="#c00000">
<text x="242" y="654.5">A</text><text x="563.5" y="653">B</text>
</g>
<path d="M181 862 L186 867 L181 870 Z" fill="#111"/>
</svg>

<div class="cap" style="top:910px">图 3 残留情况测试 (A) 韭菜基质加标（加标浓度 500 ng/mL），(B) 空白溶剂</div>
<div class="p j" style="top:943.4px;text-indent:32px">连续进 10 针基质加标（加标浓度 500 ng/mL），然后进 1 针空白溶剂，10 种目标化合物均未出峰，目标物在</div>
<div class="p" style="top:966.4px"><span style="letter-spacing:-0.2px">CNWSep</span> 极性农药专用柱无残留问题。</div>
</body></html>
